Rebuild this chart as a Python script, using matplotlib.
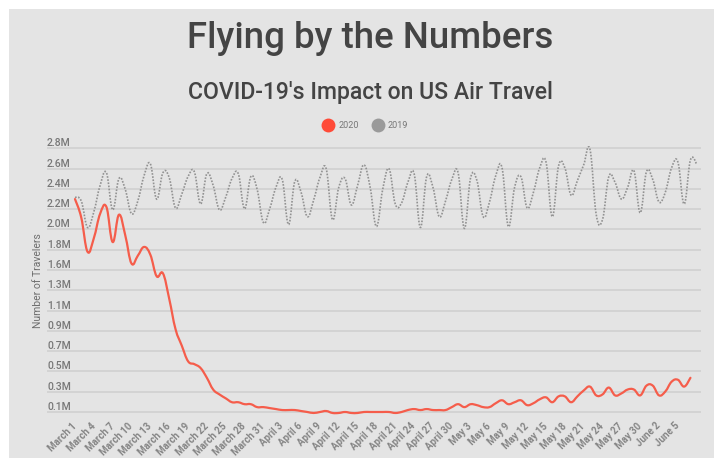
import matplotlib
matplotlib.use("Agg")
import matplotlib.pyplot as plt
import numpy as np
from matplotlib.path import Path
from matplotlib.patches import PathPatch, Rectangle
from matplotlib.lines import Line2D
import matplotlib.transforms as mtransforms

# ---------------- data ----------------
tick_labels = [
    "March 1", "March 4", "March 7", "March 10", "March 13", "March 16", "March 19",
    "March 22", "March 25", "March 28", "March 31", "April 3", "April 6", "April 9",
    "April 12", "April 15", "April 18", "April 21", "April 24", "April 27", "April 30",
    "May 3", "May 6", "May 9", "May 12", "May 15", "May 18", "May 21", "May 24",
    "May 27", "May 30", "June 2", "June 5",
]

# travelers in millions, one value per day starting March 1
travel_2020 = [
    2.28, 2.09, 1.74, 1.88, 2.13, 2.20, 1.84, 2.12, 1.91, 1.62,
    1.70, 1.79, 1.71, 1.49, 1.52, 1.26, 0.95, 0.78, 0.62, 0.59,
    0.55, 0.45, 0.33, 0.28, 0.24, 0.20, 0.20, 0.18, 0.18, 0.15,
    0.15, 0.14, 0.13, 0.12, 0.12, 0.12, 0.11, 0.10, 0.09, 0.10,
    0.11, 0.09, 0.09, 0.10, 0.09, 0.09, 0.10, 0.10, 0.10, 0.10,
    0.10, 0.09, 0.10, 0.12, 0.13, 0.12, 0.13, 0.12, 0.12, 0.12,
    0.15, 0.18, 0.15, 0.18, 0.17, 0.15, 0.15, 0.19, 0.22, 0.18,
    0.20, 0.22, 0.17, 0.19, 0.23, 0.25, 0.20, 0.26, 0.26, 0.20,
    0.26, 0.32, 0.36, 0.27, 0.28, 0.35, 0.27, 0.29, 0.33, 0.33,
    0.27, 0.37, 0.37, 0.27, 0.31, 0.41, 0.43, 0.36, 0.45,
]

travel_2019 = [
    2.30, 2.26, 1.99, 2.15, 2.42, 2.55, 2.17, 2.49, 2.38, 2.13,
    2.26, 2.52, 2.64, 2.28, 2.55, 2.50, 2.19, 2.33, 2.51, 2.56,
    2.23, 2.54, 2.42, 2.17, 2.30, 2.49, 2.54, 2.18, 2.51, 2.38,
    2.04, 2.18, 2.40, 2.48, 2.02, 2.46, 2.35, 2.10, 2.27, 2.50,
    2.59, 2.07, 2.40, 2.49, 2.22, 2.42, 2.63, 2.40, 2.00, 2.38,
    2.59, 2.23, 2.24, 2.45, 2.54, 1.99, 2.51, 2.40, 2.10, 2.26,
    2.48, 2.55, 1.98, 2.50, 2.47, 2.10, 2.25, 2.52, 2.60, 2.00,
    2.40, 2.51, 2.19, 2.35, 2.60, 2.66, 2.10, 2.62, 2.60, 2.32,
    2.47, 2.63, 2.79, 2.12, 2.07, 2.51, 2.45, 2.28, 2.40, 2.57,
    2.14, 2.56, 2.48, 2.25, 2.35, 2.60, 2.66, 2.23, 2.68, 2.64,
]

y_ticks = [0.1, 0.3077, 0.5154, 0.7231, 0.9308, 1.1385, 1.3462, 1.5538,
           1.7615, 1.9692, 2.1769, 2.3846, 2.5923, 2.8]
y_tick_labels = ["0.1M", "0.3M", "0.5M", "0.7M", "0.9M", "1.1M", "1.3M", "1.6M",
                 "1.8M", "2.0M", "2.2M", "2.4M", "2.6M", "2.8M"]

# ---------------- style ----------------
FONT = ["Roboto", "DejaVu Sans"]
plt.rcParams["font.family"] = FONT
W, H = 714, 458
BG = "#e4e4e4"
GRID = "#d3d3d3"
RED = "#f55d4b"
GRAY = "#929292"

fig = plt.figure(figsize=(W / 100, H / 100), dpi=100, facecolor="white")
fig.patches.append(Rectangle((9 / W, 0), 1 - 9 / W, 1 - 9 / H, transform=fig.transFigure,
                             facecolor=BG, edgecolor="none", zorder=-10))

left, right, top, bottom = 47, 701, 146, 416
ax = fig.add_axes([left / W, 1 - bottom / H, (right - left) / W, (bottom - top) / H])
ax.set_facecolor("none")
for s in ax.spines.values():
    s.set_visible(False)

x0, dx = 75, 6.28
ax.set_xlim((left - x0) / dx, (right - x0) / dx)
ax.set_ylim(0.1 - (bottom - 412) / 97.67, 0.1 + (412 - top) / 97.67)


def smooth_path(xs, ys, t=0.2):
    xs = np.asarray(xs, float)
    ys = np.asarray(ys, float)
    n = len(xs)
    verts = [(xs[0], ys[0])]
    codes = [Path.MOVETO]
    for i in range(n - 1):
        p0 = np.array([xs[max(i - 1, 0)], ys[max(i - 1, 0)]])
        p1 = np.array([xs[i], ys[i]])
        p2 = np.array([xs[i + 1], ys[i + 1]])
        p3 = np.array([xs[min(i + 2, n - 1)], ys[min(i + 2, n - 1)]])
        c1 = p1 + (p2 - p0) * t
        c2 = p2 - (p3 - p1) * t
        verts += [tuple(c1), tuple(c2), tuple(p2)]
        codes += [Path.CURVE4] * 3
    return Path(verts, codes)


days19 = np.arange(len(travel_2019))
days20 = np.arange(len(travel_2020))

ax.add_patch(PathPatch(smooth_path(days19, travel_2019), fill=False, edgecolor=GRAY,
                       linewidth=1.2, linestyle=(0, (1.0, 0.9)), zorder=3))
ax.add_patch(PathPatch(smooth_path(days20, travel_2020), fill=False, edgecolor=RED,
                       linewidth=1.6, zorder=4, capstyle="round", joinstyle="round"))

# grid
ax.set_yticks(y_ticks)
ax.yaxis.grid(True, color=GRID, linewidth=1.4)
ax.set_axisbelow(True)
ax.tick_params(axis="y", length=0, labelleft=False)
ytrans = mtransforms.blended_transform_factory(ax.transAxes, ax.transData)
for v, lab in zip(y_ticks, y_tick_labels):
    ax.text(0.0, v, lab, transform=ytrans, ha="left", va="bottom", fontsize=7.5,
            color="#777777", fontweight="medium")

ax.text(-0.006, 0.5, "Number of Travelers", transform=ax.transAxes, rotation=90,
        ha="right", va="center", fontsize=7.5, color="#6e6e6e")

# x ticks
ax.set_xticks(np.arange(0, 3 * len(tick_labels), 3))
ax.set_xticklabels(tick_labels, rotation=45, ha="right", va="center",
                   rotation_mode="anchor", fontsize=7, color="#858585",
                   fontweight="bold")
ax.tick_params(axis="x", length=0, pad=6)

# titles
fig.text(370 / W, 1 - 39 / H, "Flying by the Numbers", ha="center", va="center",
         fontsize=26.4, color="#444444", fontweight="medium")
fig.text(370 / W, 1 - 92 / H, "COVID-19's Impact on US Air Travel", ha="center",
         va="center", fontsize=16.6, color="#444444", fontweight="medium")

# legend
handles = [Line2D([], [], marker="o", linestyle="none", markersize=10,
                  markerfacecolor="#ff4b38", markeredgecolor="none", label="2020"),
           Line2D([], [], marker="o", linestyle="none", markersize=10,
                  markerfacecolor="#9a9a9a", markeredgecolor="none", label="2019")]
fig.legend(handles=handles, loc="center", bbox_to_anchor=(366 / W, 1 - 126 / H),
           ncol=2, frameon=False, fontsize=6.5, handletextpad=0.6,
           columnspacing=1.6, labelcolor="#777777", handlelength=1.0)

fig.savefig("out.png", dpi=100, facecolor="white")
